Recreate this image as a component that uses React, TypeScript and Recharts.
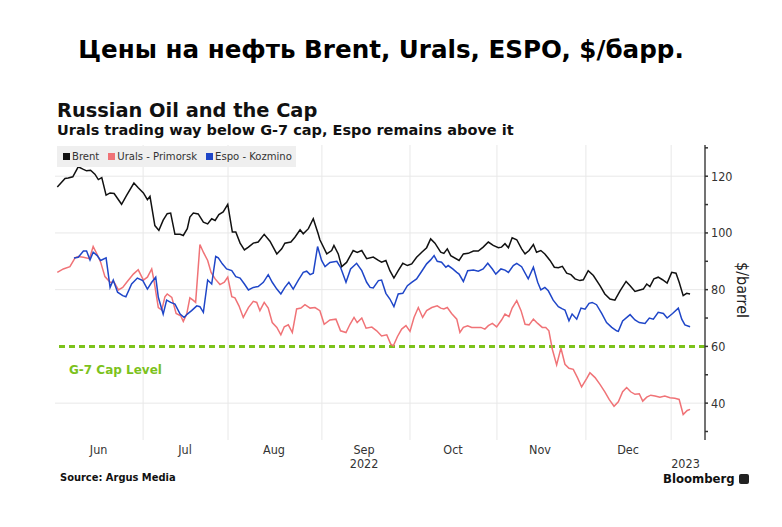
import React from "react";
import { LineChart, Line, XAxis, YAxis, CartesianGrid, ReferenceLine } from "recharts";

// Days since 2022-06-01
const brentDays = [0.1, 2.8, 3.9, 5.5, 7.4, 9.2, 10.3, 11.7, 13.2, 14.4, 15.6, 17.1, 18.5, 19.9, 22.5, 24.3, 26.8, 28.3, 30.1, 31.5, 32.4, 34.1, 35.5, 37.0, 38.4, 39.6, 41.1, 42.9, 44.0, 45.4, 46.3, 47.5, 49.2, 51.0, 52.5, 53.9, 55.1, 56.4, 57.9, 59.5, 61.1, 62.3, 63.8, 65.3, 66.7, 68.4, 70.1, 72.2, 74.2, 76.6, 78.3, 79.4, 81.5, 82.9, 84.7, 85.8, 87.6, 89.3, 91.0, 91.6, 94.0, 95.7, 96.5, 98.0, 99.2, 100.9, 103.2, 104.6, 106.2, 107.9, 110.2, 112.0, 113.1, 114.6, 116.0, 117.4, 118.9, 120.5, 122.1, 123.6, 125.3, 127.1, 128.8, 130.2, 131.7, 133.7, 134.8, 136.0, 137.2, 140.1, 141.6, 143.3, 145.1, 146.8, 148.5, 150.3, 152.0, 153.8, 154.9, 156.1, 157.3, 158.6, 160.2, 161.9, 163.1, 164.5, 166.0, 167.1, 168.6, 170.0, 171.8, 173.3, 174.7, 176.1, 177.6, 179.1, 180.5, 182.2, 183.4, 185.1, 186.9, 189.2, 190.9, 192.7, 194.4, 196.2, 198.3, 199.7, 201.4, 203.1, 204.3, 205.5, 206.6, 208.0, 209.5, 211.0, 212.6, 214.2, 215.7, 216.8, 218.2, 219.4, 220.6];
const brentVals = [116.2, 119.2, 119.4, 119.8, 123.3, 122.4, 121.9, 122.1, 120.7, 118.8, 119.5, 113.3, 114.1, 113.9, 110.1, 113.3, 117.6, 115.9, 114.1, 111.7, 112.9, 102.6, 100.9, 104.5, 106.8, 107.0, 99.5, 99.5, 99.1, 101.5, 105.6, 107.0, 106.7, 103.8, 103.2, 105.0, 104.4, 106.5, 107.4, 110.1, 100.3, 100.3, 96.4, 94.0, 95.0, 96.4, 96.8, 99.5, 97.1, 92.6, 94.4, 96.4, 96.8, 98.5, 101.1, 99.7, 101.5, 105.0, 99.7, 97.6, 92.6, 93.8, 95.6, 92.6, 88.1, 89.6, 93.8, 93.1, 93.8, 90.9, 91.5, 90.3, 89.7, 90.3, 86.7, 84.1, 86.7, 89.3, 88.5, 89.1, 91.4, 93.2, 94.8, 97.9, 96.4, 93.2, 92.8, 94.4, 92.0, 90.3, 92.6, 92.8, 93.6, 93.6, 95.0, 96.8, 95.6, 94.8, 95.0, 96.2, 94.8, 98.3, 97.6, 94.4, 92.6, 93.8, 95.9, 93.2, 93.8, 92.6, 90.3, 87.9, 87.7, 88.2, 85.8, 85.3, 83.8, 83.2, 83.5, 86.7, 85.0, 81.4, 78.5, 76.7, 76.3, 79.6, 82.9, 81.4, 79.4, 79.9, 80.2, 82.0, 81.1, 83.8, 84.4, 83.5, 82.3, 86.1, 85.8, 82.6, 77.9, 78.7, 78.5];

const uralsDays = [0.1, 2.2, 4.5, 6.3, 7.4, 9.2, 10.3, 11.3, 12.6, 14.0, 15.2, 16.7, 18.5, 19.9, 21.4, 22.9, 24.3, 26.6, 28.3, 30.1, 31.5, 33.0, 33.8, 35.3, 36.5, 37.6, 38.4, 40.0, 41.5, 43.1, 44.0, 45.2, 46.3, 47.5, 48.3, 49.8, 51.0, 52.5, 53.7, 55.1, 56.8, 58.3, 59.5, 60.9, 62.0, 63.4, 64.9, 66.7, 68.4, 69.6, 70.7, 72.2, 73.6, 75.0, 76.6, 78.0, 79.2, 80.6, 82.0, 83.5, 85.0, 86.4, 88.2, 89.9, 91.6, 93.1, 95.1, 97.2, 98.8, 100.7, 102.1, 103.5, 104.6, 106.2, 107.7, 109.7, 111.4, 113.1, 114.9, 116.3, 117.2, 118.6, 120.1, 121.6, 123.0, 124.4, 125.9, 127.4, 128.8, 130.6, 132.5, 133.7, 134.8, 136.0, 137.5, 139.3, 140.4, 141.6, 143.1, 144.5, 146.2, 147.7, 149.1, 150.3, 151.7, 153.2, 154.9, 156.1, 157.5, 158.6, 160.2, 161.7, 163.1, 164.5, 166.0, 167.5, 169.1, 170.3, 171.4, 172.6, 174.1, 175.6, 177.0, 178.4, 179.9, 181.4, 182.8, 184.6, 185.7, 187.5, 189.2, 190.9, 192.4, 194.1, 195.6, 197.1, 198.5, 199.9, 201.4, 202.9, 204.1, 205.5, 206.9, 208.4, 210.1, 211.8, 213.6, 215.3, 216.8, 218.2, 219.6, 220.6];
const uralsVals = [86.1, 87.3, 88.1, 91.2, 91.7, 91.4, 91.2, 90.9, 95.2, 92.4, 89.7, 84.6, 82.6, 82.6, 79.9, 80.8, 82.6, 85.5, 87.0, 83.4, 84.4, 87.3, 83.2, 73.7, 72.8, 77.5, 78.5, 77.3, 71.6, 70.8, 68.8, 71.4, 77.1, 76.2, 75.5, 95.9, 93.2, 90.3, 86.1, 83.8, 81.8, 82.6, 84.4, 77.5, 77.1, 74.3, 70.2, 73.7, 75.9, 75.5, 72.6, 75.5, 73.5, 68.4, 66.7, 64.1, 66.9, 67.6, 64.9, 73.2, 73.5, 74.7, 73.5, 73.7, 72.6, 67.8, 69.3, 69.6, 65.5, 64.9, 67.8, 70.2, 68.4, 70.0, 66.4, 66.8, 65.5, 63.7, 64.1, 60.8, 60.2, 63.4, 66.1, 67.3, 65.3, 70.2, 73.7, 70.2, 72.6, 73.7, 74.3, 73.5, 73.2, 73.7, 71.6, 69.6, 64.9, 66.7, 67.3, 66.7, 66.7, 66.7, 66.1, 67.3, 68.1, 66.9, 69.3, 71.4, 70.5, 73.5, 76.1, 72.6, 67.8, 67.6, 69.6, 68.1, 66.7, 66.7, 65.5, 59.0, 53.5, 59.4, 53.7, 52.3, 51.9, 48.9, 45.7, 48.7, 50.7, 49.0, 46.6, 44.0, 41.3, 38.9, 40.5, 44.0, 45.5, 44.0, 43.1, 43.3, 40.7, 42.1, 42.8, 42.5, 42.1, 42.5, 41.9, 41.7, 41.3, 36.0, 37.4, 37.8];

const espoDays = [5.9, 7.4, 9.2, 10.3, 11.5, 12.6, 14.0, 15.2, 17.1, 18.5, 19.6, 21.1, 22.9, 24.0, 26.0, 28.0, 29.9, 31.5, 33.0, 34.4, 35.3, 37.0, 38.2, 39.6, 41.1, 42.9, 44.3, 45.4, 46.9, 48.7, 49.8, 51.0, 52.5, 53.9, 55.3, 56.2, 57.6, 59.1, 60.9, 62.3, 63.8, 65.3, 66.7, 68.4, 70.1, 71.9, 73.6, 75.0, 76.6, 78.0, 79.4, 80.8, 82.3, 84.1, 85.8, 87.0, 88.2, 89.3, 90.8, 92.2, 93.4, 95.1, 97.5, 98.8, 100.7, 102.3, 104.4, 106.2, 107.9, 109.1, 110.2, 112.0, 113.1, 114.6, 116.0, 117.4, 118.9, 120.5, 122.1, 123.6, 125.3, 127.1, 128.8, 130.2, 131.4, 132.5, 134.0, 135.5, 136.3, 137.9, 139.3, 140.1, 141.6, 143.1, 145.1, 146.8, 148.5, 150.1, 151.7, 152.9, 154.7, 156.1, 157.3, 159.0, 160.2, 161.9, 164.2, 166.0, 167.5, 168.6, 170.0, 171.2, 172.9, 174.7, 176.1, 177.0, 178.4, 179.5, 181.1, 182.6, 184.0, 185.4, 186.5, 188.0, 189.8, 191.5, 193.3, 195.0, 195.6, 197.1, 199.7, 201.4, 202.9, 204.9, 206.4, 207.8, 209.5, 211.3, 212.6, 214.5, 216.5, 217.7, 218.8, 220.6];
const espoVals = [91.2, 91.4, 93.6, 93.6, 90.5, 93.2, 92.0, 90.3, 91.2, 80.8, 83.4, 79.1, 77.9, 77.5, 82.0, 84.1, 83.2, 80.2, 82.6, 84.4, 77.3, 71.4, 76.3, 75.5, 74.9, 71.4, 70.2, 71.4, 72.6, 74.3, 74.0, 72.0, 83.4, 82.0, 91.7, 91.2, 89.1, 87.3, 86.7, 84.6, 84.1, 82.0, 79.9, 80.8, 81.1, 82.6, 85.3, 82.6, 80.2, 78.5, 80.8, 82.6, 80.2, 83.4, 86.1, 86.5, 85.3, 85.8, 95.2, 90.3, 88.1, 89.6, 90.0, 87.9, 82.6, 87.3, 89.3, 86.7, 82.6, 80.8, 80.6, 83.2, 83.4, 78.7, 76.7, 74.0, 78.5, 78.7, 81.4, 82.6, 83.8, 86.5, 89.1, 90.5, 92.0, 90.0, 89.7, 87.9, 88.5, 87.3, 86.1, 85.5, 82.9, 86.7, 86.9, 86.5, 87.3, 89.3, 87.3, 85.5, 87.3, 86.9, 86.1, 88.5, 89.3, 88.1, 83.8, 87.9, 82.6, 79.9, 80.8, 79.6, 76.3, 74.0, 73.2, 72.8, 69.0, 71.4, 69.6, 73.5, 73.1, 75.2, 75.5, 74.7, 71.6, 68.4, 66.7, 65.5, 65.3, 69.0, 71.2, 69.3, 68.4, 68.1, 70.0, 69.6, 72.0, 71.6, 70.0, 71.6, 73.5, 69.6, 67.6, 66.9];

const capLevel = 60;
const monthLabels = ["Jun", "Jul", "Aug", "Sep", "Oct", "Nov", "Dec", ""];
const monthLabelDays = [14.5, 44.6, 75.6, 107, 138, 168.3, 199, 219];
const yearLabels: Record<number, string> = { 107: "2022", 219: "2023" };
const monthStartDays = [30, 59.6, 92.3, 123, 153.3, 184.3, 214];
const gridYValues = [40, 80, 100, 120];
const yTicks = [30, 40, 50, 60, 70, 80, 90, 100, 110, 120, 130];

const toPoints = (days: number[], vals: number[]) => days.map((d, i) => ({ d, v: vals[i] }));
const brentData = toPoints(brentDays, brentVals);
const uralsData = toPoints(uralsDays, uralsVals);
const espoData = toPoints(espoDays, espoVals);

const FONT = "'DejaVu Sans', Verdana, sans-serif";
const COND = "'DejaVu Sans Condensed', 'DejaVu Sans', sans-serif";

const YTick = (props: any) => {
  const { x, y, payload } = props;
  const major = payload.value % 20 === 0;
  return (
    <g>
      <line x1={x} x2={x + 3} y1={y} y2={y} stroke="#333" strokeWidth={1.5} />
      {major && (
        <text x={x + 6} y={y} dy={4.5} fontSize={12.5} fill="#333" fontFamily={COND}>
          {payload.value}
        </text>
      )}
    </g>
  );
};

const XTick = (props: any) => {
  const { x, y, payload } = props;
  const idx = monthLabelDays.indexOf(payload.value);
  const label = idx >= 0 ? monthLabels[idx] : "";
  const year = yearLabels[payload.value];
  return (
    <g>
      <text x={x} y={y + 6} textAnchor="middle" fontSize={12.5} fill="#333" fontFamily={COND}>
        {label}
      </text>
      {year && (
        <text x={x} y={y + 20} textAnchor="middle" fontSize={12.5} fill="#333" fontFamily={COND}>
          {year}
        </text>
      )}
    </g>
  );
};

const legendItems = [
  { name: "Brent", color: "#111111" },
  { name: "Urals - Primorsk", color: "#f07377" },
  { name: "Espo - Kozmino", color: "#1f46c8" },
];

export default function App() {
  return (
    <div style={{ position: "absolute", left: 0, top: 0, width: 782, height: 527, background: "#fff", overflow: "hidden" }}>
      <div style={{ position: "absolute", left: 0, top: 35, width: 762, textAlign: "center", fontFamily: FONT, fontWeight: 700, fontSize: 24.6, color: "#000", whiteSpace: "nowrap" }}>
        Цены на нефть Brent, Urals, ESPO, $/барр.
      </div>
      <div style={{ position: "absolute", left: 57, top: 99, fontFamily: FONT, fontWeight: 700, fontSize: 19.4, color: "#111", whiteSpace: "nowrap" }}>
        Russian Oil and the Cap
      </div>
      <div style={{ position: "absolute", left: 57, top: 122, fontFamily: FONT, fontWeight: 700, fontSize: 14.5, color: "#111", whiteSpace: "nowrap" }}>
        Urals trading way below G-7 cap, Espo remains above it
      </div>
      <div style={{ position: "absolute", left: 0, top: 0 }}>
        <LineChart width={782} height={527} margin={{ top: 145, left: 55, right: 37, bottom: 57 }}>
          <CartesianGrid
            stroke="#e8e8e8"
            strokeWidth={1}
            horizontalValues={gridYValues}
            verticalValues={monthStartDays}
          />
          <XAxis
            dataKey="d"
            type="number"
            domain={[-0.7, 225.8]}
            allowDataOverflow
            ticks={monthLabelDays}
            interval={0}
            tick={<XTick />}
            tickLine={false}
            axisLine={false}
            height={30}
          />
          <YAxis
            orientation="right"
            type="number"
            domain={[27, 131]}
            allowDataOverflow
            ticks={yTicks}
            interval={0}
            tick={<YTick />}
            tickLine={false}
            tickSize={0}
            tickMargin={0}
            axisLine={{ stroke: "#444", strokeWidth: 1.5 }}
            width={40}
          />
          <ReferenceLine y={capLevel} stroke="#7cc21c" strokeWidth={3} strokeDasharray="6 4" />
          <Line data={uralsData} dataKey="v" stroke="#f07377" strokeWidth={1.5} dot={false} isAnimationActive={false} />
          <Line data={espoData} dataKey="v" stroke="#1f46c8" strokeWidth={1.5} dot={false} isAnimationActive={false} />
          <Line data={brentData} dataKey="v" stroke="#111111" strokeWidth={1.5} dot={false} isAnimationActive={false} />
        </LineChart>
      </div>
      <div style={{ position: "absolute", left: 57, top: 146, width: 239, height: 21, background: "#efefef", display: "flex", alignItems: "center", fontFamily: COND, fontSize: 11.2, color: "#333", whiteSpace: "nowrap" }}>
        {legendItems.map((it, i) => (
          <div key={it.name} style={{ display: "flex", alignItems: "center", marginLeft: i === 0 ? 6 : 9, whiteSpace: "nowrap" }}>
            <span style={{ display: "inline-block", width: 7, height: 7, background: it.color, marginRight: 2 }} />
            {it.name}
          </div>
        ))}
      </div>
      <div style={{ position: "absolute", left: 69, top: 363, fontFamily: FONT, fontWeight: 700, fontSize: 12, color: "#7cc21c", whiteSpace: "nowrap" }}>
        G-7 Cap Level
      </div>
      <div style={{ position: "absolute", left: 733, top: 262, writingMode: "vertical-rl", fontFamily: COND, fontSize: 16, color: "#222", whiteSpace: "nowrap" }}>
        $/barrel
      </div>
      <div style={{ position: "absolute", left: 60, top: 471, fontFamily: COND, fontWeight: 700, fontSize: 11, color: "#111", whiteSpace: "nowrap" }}>
        Source: Argus Media
      </div>
      <div style={{ position: "absolute", left: 663, top: 472, height: 13, lineHeight: "13px", fontFamily: COND, fontWeight: 700, fontSize: 13, color: "#111", display: "flex", alignItems: "center", whiteSpace: "nowrap" }}>
        Bloomberg
        <span style={{ display: "inline-block", width: 10, height: 10, background: "#222", borderRadius: 2, marginLeft: 4 }} />
      </div>
    </div>
  );
}
